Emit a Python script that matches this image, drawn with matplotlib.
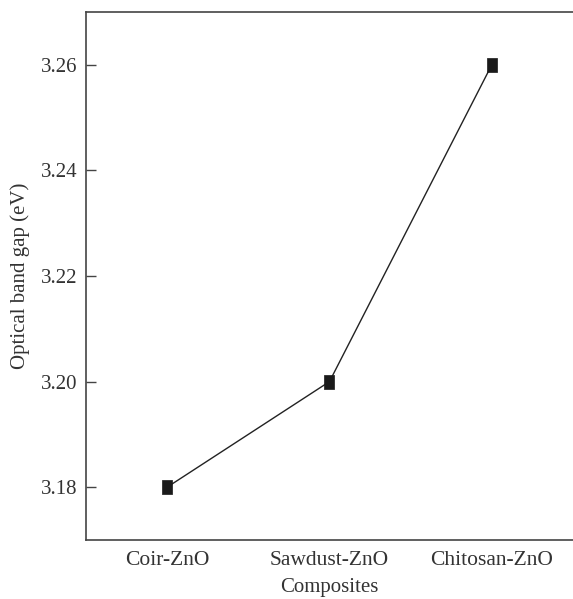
import matplotlib
matplotlib.use('Agg')
from matplotlib import pyplot as plt

composites = ['Coir-ZnO', 'Sawdust-ZnO', 'Chitosan-ZnO']
band_gap = [3.18, 3.20, 3.26]
yticks = [3.18, 3.20, 3.22, 3.24, 3.26]

plt.rcParams['font.family'] = ['Liberation Serif', 'DejaVu Serif']
plt.rcParams['font.size'] = 15

fig = plt.figure(figsize=(5.73, 5.99), dpi=100)
ax = fig.add_axes([0.150, 0.0985, 0.85, 0.8815])

# slightly tall rectangle marker, like the original
rect = [(-0.38, -0.5), (0.38, -0.5), (0.38, 0.5), (-0.38, 0.5), (-0.38, -0.5)]

x = list(range(len(composites)))
ax.plot(x, band_gap, color='#222222', linewidth=1.0, marker=rect, markersize=10,
        markerfacecolor='#1a1a1a', markeredgecolor='#1a1a1a', markeredgewidth=0.5)

ax.set_xlim(-0.5, 2.5)
ax.set_ylim(3.17, 3.27)
ax.set_xticks(x)
ax.set_xticklabels(composites, fontsize=15.5)
ax.set_yticks(yticks)
ax.set_yticklabels(['{:.2f}'.format(v) for v in yticks])

ax.spines['right'].set_visible(False)
for s in ['left', 'top', 'bottom']:
    ax.spines[s].set_color('#444444')
    ax.spines[s].set_linewidth(1.2)

ax.tick_params(axis='y', direction='in', length=7, width=1.0, color='#444444',
               labelcolor='#333333', pad=6)
ax.tick_params(axis='x', length=0, labelcolor='#333333', pad=8)

ax.set_xlabel('Composites', color='#333333', labelpad=6)
ax.set_ylabel('Optical band gap (eV)', color='#333333', labelpad=8)

plt.savefig('out.png', dpi=100)
